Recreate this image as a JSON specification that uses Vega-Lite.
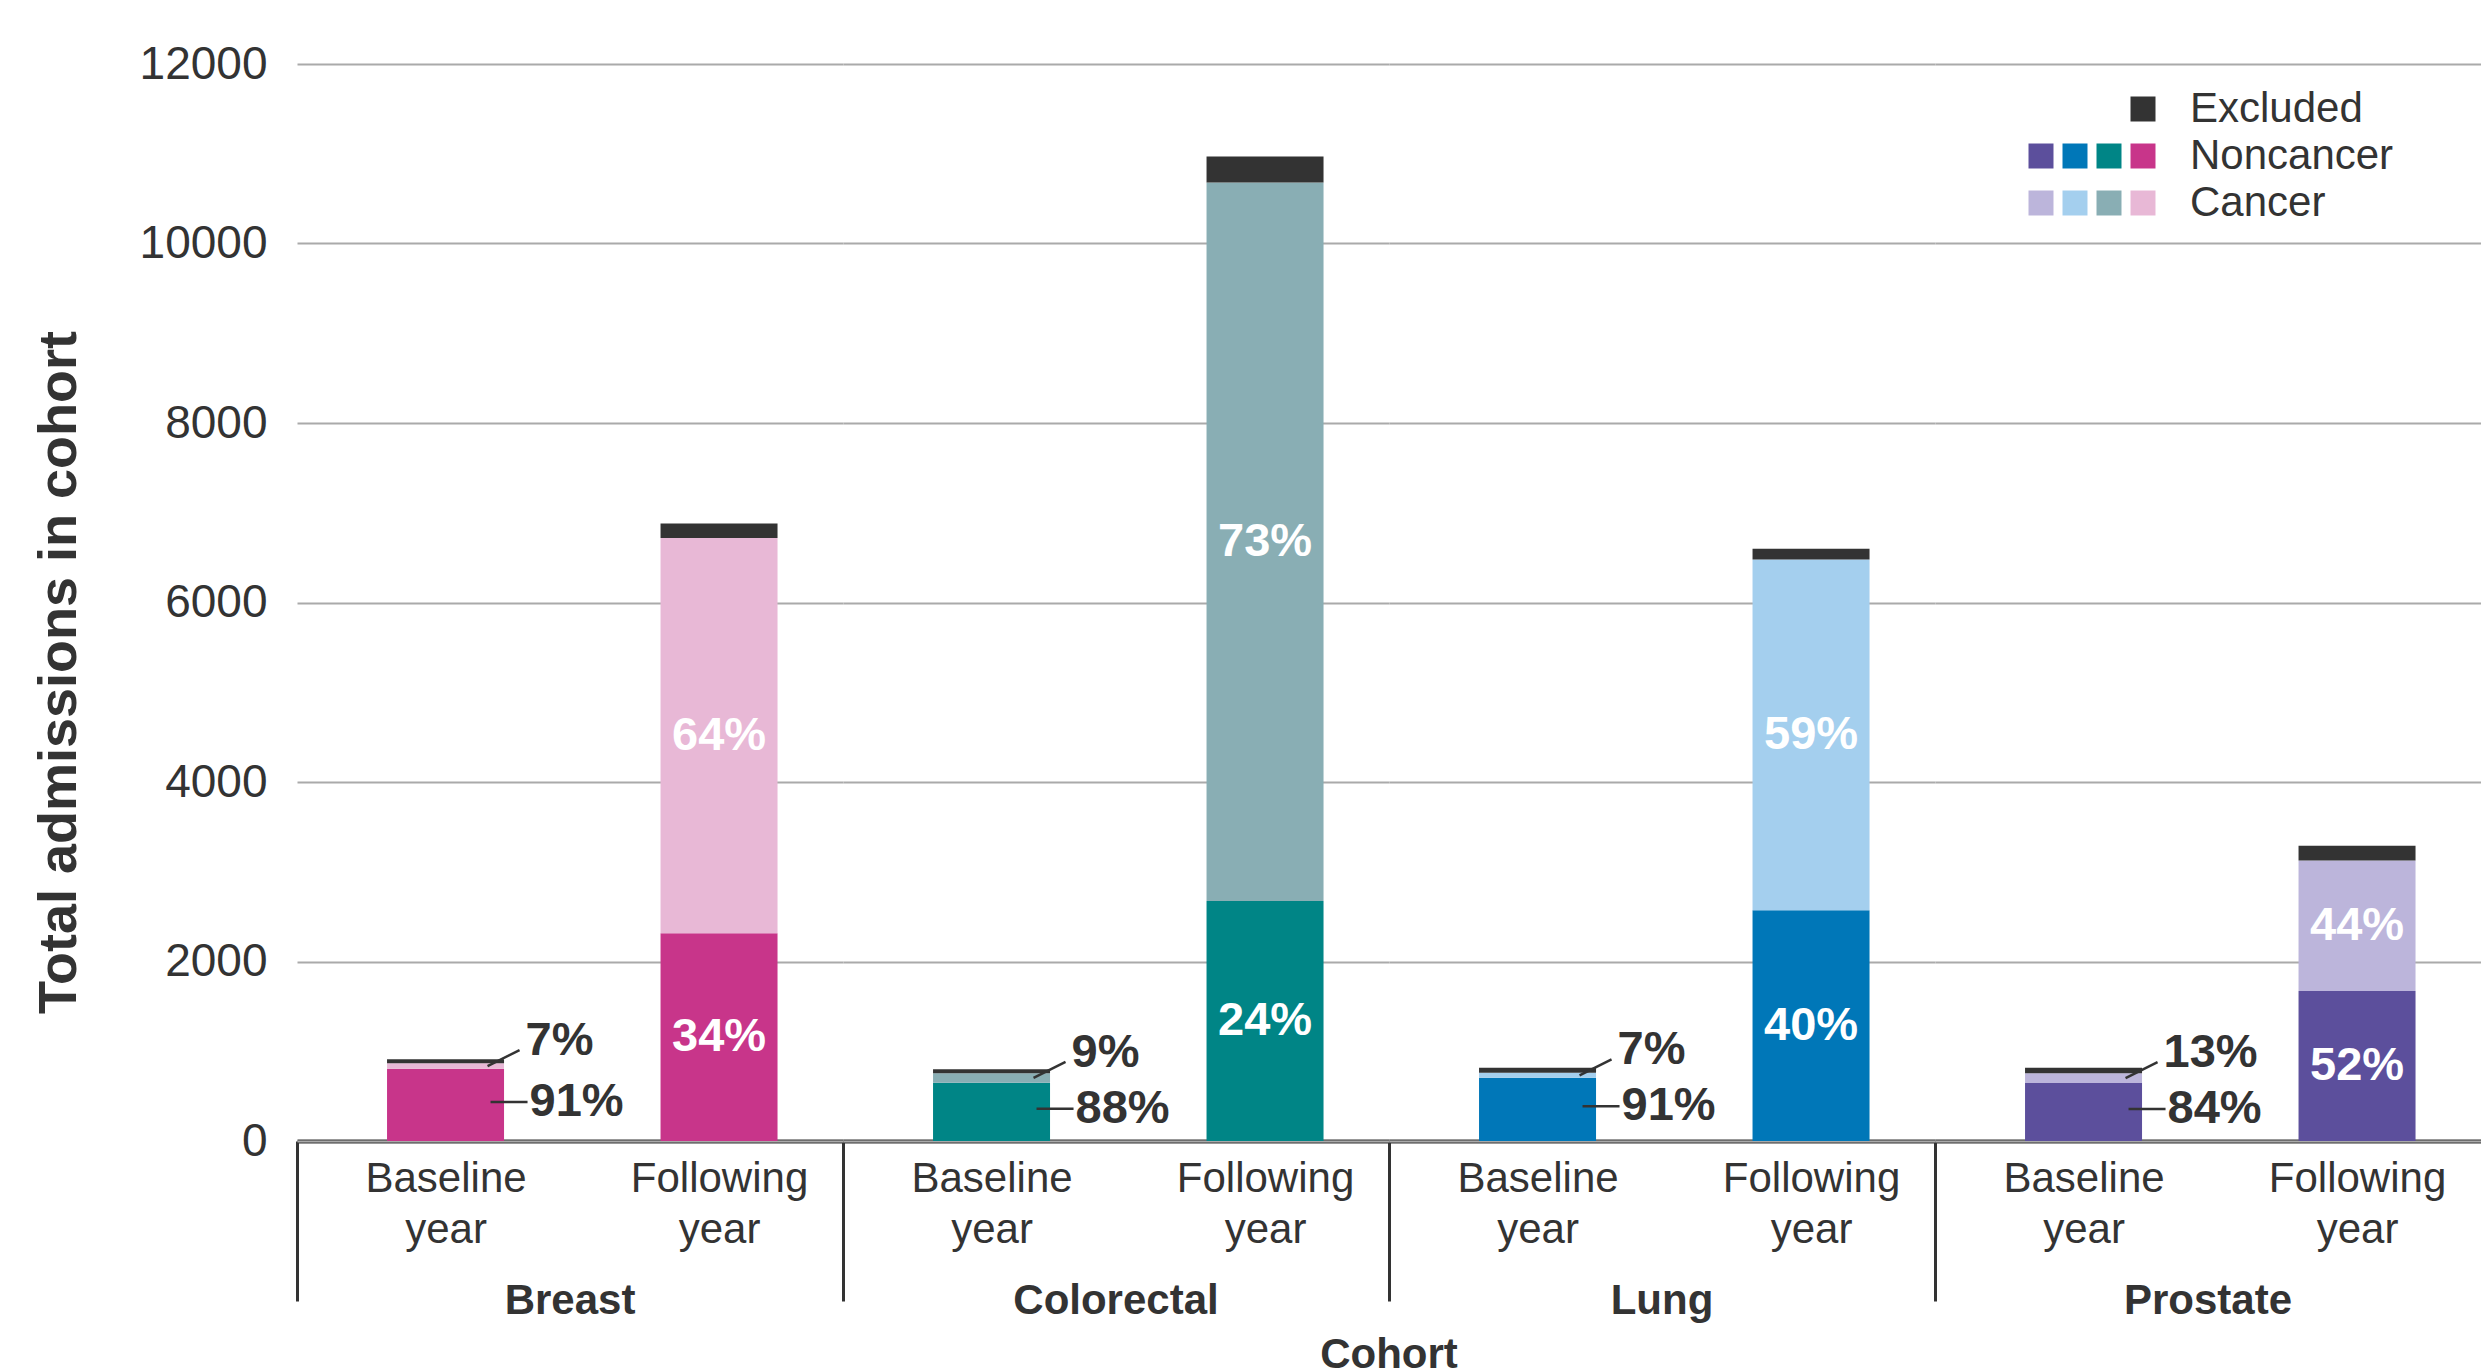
{
  "$schema": "https://vega.github.io/schema/vega-lite/v6.json",
  "padding": {"left": 32, "top": 41, "right": 0, "bottom": 0},
  "background": "white",
  "data": {"values": [
    {"cohort": "Breast", "period": "Baseline year", "status": "Noncancer", "count": 805, "pct": "91%"},
    {"cohort": "Breast", "period": "Baseline year", "status": "Cancer", "count": 60, "pct": "7%"},
    {"cohort": "Breast", "period": "Baseline year", "status": "Excluded", "count": 45, "pct": ""},
    {"cohort": "Breast", "period": "Following year", "status": "Noncancer", "count": 2315, "pct": "34%"},
    {"cohort": "Breast", "period": "Following year", "status": "Cancer", "count": 4405, "pct": "64%"},
    {"cohort": "Breast", "period": "Following year", "status": "Excluded", "count": 160, "pct": ""},
    {"cohort": "Colorectal", "period": "Baseline year", "status": "Noncancer", "count": 650, "pct": "88%"},
    {"cohort": "Colorectal", "period": "Baseline year", "status": "Cancer", "count": 105, "pct": "9%"},
    {"cohort": "Colorectal", "period": "Baseline year", "status": "Excluded", "count": 45, "pct": ""},
    {"cohort": "Colorectal", "period": "Following year", "status": "Noncancer", "count": 2675, "pct": "24%"},
    {"cohort": "Colorectal", "period": "Following year", "status": "Cancer", "count": 8005, "pct": "73%"},
    {"cohort": "Colorectal", "period": "Following year", "status": "Excluded", "count": 290, "pct": ""},
    {"cohort": "Lung", "period": "Baseline year", "status": "Noncancer", "count": 705, "pct": "91%"},
    {"cohort": "Lung", "period": "Baseline year", "status": "Cancer", "count": 55, "pct": "7%"},
    {"cohort": "Lung", "period": "Baseline year", "status": "Excluded", "count": 55, "pct": ""},
    {"cohort": "Lung", "period": "Following year", "status": "Noncancer", "count": 2570, "pct": "40%"},
    {"cohort": "Lung", "period": "Following year", "status": "Cancer", "count": 3910, "pct": "59%"},
    {"cohort": "Lung", "period": "Following year", "status": "Excluded", "count": 120, "pct": ""},
    {"cohort": "Prostate", "period": "Baseline year", "status": "Noncancer", "count": 645, "pct": "84%"},
    {"cohort": "Prostate", "period": "Baseline year", "status": "Cancer", "count": 110, "pct": "13%"},
    {"cohort": "Prostate", "period": "Baseline year", "status": "Excluded", "count": 60, "pct": ""},
    {"cohort": "Prostate", "period": "Following year", "status": "Noncancer", "count": 1670, "pct": "52%"},
    {"cohort": "Prostate", "period": "Following year", "status": "Cancer", "count": 1455, "pct": "44%"},
    {"cohort": "Prostate", "period": "Following year", "status": "Excluded", "count": 165, "pct": ""}
  ]},
  "transform": [
    {"calculate": "indexof(['Noncancer','Cancer','Excluded'], datum.status)", "as": "ord"},
    {"stack": "count", "groupby": ["cohort", "period"], "sort": [{"field": "ord", "order": "ascending"}], "as": ["y0", "y1"]},
    {"calculate": "(datum.y0 + datum.y1) / 2", "as": "ymid"},
    {"calculate": "datum.status == 'Excluded' ? 'Excluded' : datum.status + ' ' + datum.cohort", "as": "series"}
  ],
  "facet": {
    "column": {
      "field": "cohort", "type": "nominal",
      "sort": ["Breast", "Colorectal", "Lung", "Prostate"],
      "title": "Cohort",
      "header": {
        "labelOrient": "bottom", "titleOrient": "bottom",
        "labelFontSize": 42, "labelFontWeight": "bold", "labelColor": "#333333", "labelPadding": -22,
        "titleFontSize": 42, "titleFontWeight": "bold", "titleColor": "#333333", "titlePadding": 3
      }
    }
  },
  "spacing": 0,
  "spec": {
    "width": 546,
    "height": 1077,
    "encoding": {
      "x": {
        "field": "period", "type": "nominal", "sort": ["Baseline year", "Following year"],
        "scale": {"paddingInner": 0.5722, "paddingOuter": 0.2843, "align": 0.579},
        "axis": {
          "title": null, "orient": "bottom",
          "domainColor": "#333333", "domainWidth": 4,
          "ticks": true, "tickSize": 160, "tickWidth": 3, "bandPosition": 0, "tickOffset": -90, "labelOffset": 90,
          "tickColor": {"condition": {"test": "datum.value == 'Baseline year'", "value": "#333333"}, "value": "transparent"},
          "labelExpr": "split(datum.label, ' ')",
          "labelFontSize": 42, "labelColor": "#333333", "labelPadding": -143, "labelLineHeight": 51,
          "labelBaseline": "top", "labelLimit": 400, "labelOverlap": false, "labelAngle": 0, "zindex": 1
        }
      }
    },
    "layer": [
      {
        "mark": {"type": "bar"},
        "encoding": {
          "y": {
            "field": "y1", "type": "quantitative", "title": "Total admissions in cohort",
            "scale": {"domain": [0, 12000], "nice": false},
            "axis": {
              "values": [0, 2000, 4000, 6000, 8000, 10000, 12000], "format": "d",
              "domain": false, "ticks": false, "grid": true, "gridColor": "#aaaaaa", "gridWidth": 2,
              "labelFontSize": 46, "labelColor": "#333333", "labelPadding": 30,
              "titleFontSize": 54, "titleFontWeight": "bold", "titleColor": "#333333", "titlePadding": 53, "titleY": 608
            }
          },
          "y2": {"field": "y0"},
          "color": {
            "field": "series", "type": "nominal",
            "scale": {
              "domain": ["_a", "_b", "_c", "Excluded", "Noncancer Prostate", "Noncancer Lung", "Noncancer Colorectal", "Noncancer Breast", "Cancer Prostate", "Cancer Lung", "Cancer Colorectal", "Cancer Breast"],
              "range": ["transparent", "transparent", "transparent", "#333333", "#5c4f9c", "#0077b8", "#008586", "#c8358a", "#bcb5db", "#a4cfee", "#89aeb4", "#e8b8d6"]
            },
            "legend": {
              "title": null, "orient": "none", "legendX": 1723, "legendY": 24,
              "direction": "horizontal", "columns": 4, "columnPadding": 0, "rowPadding": 5,
              "symbolType": "square", "symbolSize": 625, "symbolStrokeWidth": 0, "symbolOpacity": 1,
              "labelFontSize": 42, "labelColor": "#333333", "labelOffset": -17, "labelLimit": 400,
              "labelExpr": "datum.value == 'Excluded' ? 'Excluded' : datum.value == 'Noncancer Breast' ? 'Noncancer' : datum.value == 'Cancer Breast' ? 'Cancer' : ''",
              "encode": {
                "labels": {
                  "update": {
                    "dx": {"signal": "indexof(['Excluded', 'Noncancer Breast', 'Cancer Breast'], datum.value) >= 0 ? 43 : 0"}
                  }
                }
              }
            }
          }
        }
      },
      {
        "transform": [{"filter": "datum.period == 'Following year' && datum.status != 'Excluded'"}],
        "mark": {"type": "text", "color": "white", "fontSize": 47, "fontWeight": "bold", "align": "center", "baseline": "middle"},
        "encoding": {
          "y": {"field": "ymid", "type": "quantitative", "title": "Total admissions in cohort"},
          "text": {"field": "pct"}
        }
      },
      {
        "transform": [{"filter": "datum.period == 'Baseline year' && datum.status == 'Noncancer'"}],
        "mark": {"type": "text", "color": "#333333", "fontSize": 47, "fontWeight": "bold", "align": "left", "baseline": "middle", "dx": 84, "dy": -3},
        "encoding": {
          "y": {"field": "ymid", "type": "quantitative", "title": "Total admissions in cohort"},
          "text": {"field": "pct"}
        }
      },
      {
        "transform": [{"filter": "datum.period == 'Baseline year' && datum.status == 'Cancer'"}],
        "mark": {"type": "text", "color": "#333333", "fontSize": 47, "fontWeight": "bold", "align": "left", "baseline": "middle", "dx": 80, "dy": -25},
        "encoding": {
          "y": {"field": "ymid", "type": "quantitative", "title": "Total admissions in cohort"},
          "text": {"field": "pct"}
        }
      },
      {
        "transform": [{"filter": "datum.period == 'Baseline year' && datum.status == 'Noncancer'"}],
        "mark": {"type": "rule", "color": "#333333", "strokeWidth": 2.5, "xOffset": 45, "x2Offset": 82, "yOffset": -3, "y2Offset": -3},
        "encoding": {
          "x2": {"field": "period"},
          "y": {"field": "ymid", "type": "quantitative", "title": "Total admissions in cohort"},
          "y2": {"field": "ymid"}
        }
      },
      {
        "transform": [{"filter": "datum.period == 'Baseline year' && datum.status == 'Cancer'"}],
        "mark": {"type": "rule", "color": "#333333", "strokeWidth": 2.5, "xOffset": 42, "x2Offset": 74, "yOffset": 0, "y2Offset": -16},
        "encoding": {
          "x2": {"field": "period"},
          "y": {"field": "ymid", "type": "quantitative", "title": "Total admissions in cohort"},
          "y2": {"field": "ymid"}
        }
      }
    ]
  },
  "config": {
    "font": "Liberation Sans",
    "view": {"stroke": null}
  }
}
